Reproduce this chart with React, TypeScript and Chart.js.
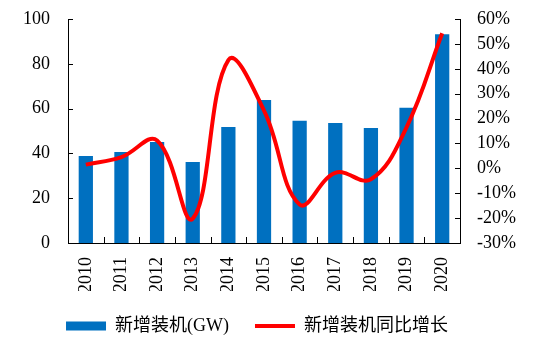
import React, { useEffect, useRef } from "react";
import { Chart, registerables } from "chart.js";

Chart.register(...registerables);

const years = ["2010", "2011", "2012", "2013", "2014", "2015", "2016", "2017", "2018", "2019", "2020"];
const installed = [38.8, 40.6, 45.1, 36.2, 51.8, 63.8, 54.6, 53.6, 51.3, 60.4, 93.2];
const growth = [1.5, 4.5, 11.2, -20.2, 43.5, 23.2, -14.5, -1.8, -4.4, 16.5, 54.3];
const barLabel = "新增装机(GW)";
const lineLabel = "新增装机同比增长";

const FONT = "'Liberation Serif', 'Times New Roman', 'Noto Sans CJK SC', serif";

const tickMarks = {
  id: "tickMarks",
  afterDatasetsDraw(chart: any) {
    const { ctx, chartArea, scales } = chart;
    const x = scales.x, y = scales.y, y1 = scales.y1;
    ctx.save();
    ctx.strokeStyle = "#000";
    ctx.lineWidth = 1;
    ctx.beginPath();
    y.ticks.forEach((_: any, i: number) => {
      const py = Math.round(y.getPixelForTick(i)) + 0.5;
      ctx.moveTo(chartArea.left, py);
      ctx.lineTo(chartArea.left + 5, py);
    });
    y1.ticks.forEach((_: any, i: number) => {
      const py = Math.round(y1.getPixelForTick(i)) + 0.5;
      ctx.moveTo(chartArea.right, py);
      ctx.lineTo(chartArea.right - 5, py);
    });
    const n = x.ticks.length;
    for (let i = 0; i <= n; i++) {
      const px =
        i === 0 ? x.left : i === n ? x.right : (x.getPixelForTick(i - 1) + x.getPixelForTick(i)) / 2;
      const rx = Math.round(px) + 0.5;
      ctx.moveTo(rx, chartArea.bottom);
      ctx.lineTo(rx, chartArea.bottom - 6);
    }
    ctx.stroke();
    ctx.restore();
  },
};

// shift the legend so it is centred under the plot rather than the whole canvas
const legendShift = {
  id: "legendShift",
  afterLayout(chart: any) {
    const lg = chart.legend;
    if (lg) {
      lg.right -= 40;
      lg.width -= 40;
    }
  },
};

const fitY = (w: number) => (s: any) => {
  s.width = w;
  s.paddingTop = 0;
  s.paddingBottom = 0;
};

export default function App() {
  const ref = useRef<HTMLCanvasElement>(null);
  useEffect(() => {
    if (!ref.current) return;
    const chart = new Chart(ref.current, {
      type: "bar",
      data: {
        labels: years,
        datasets: [
          {
            type: "bar",
            label: barLabel,
            data: installed,
            backgroundColor: "#0070C0",
            borderWidth: 0,
            barPercentage: 0.4,
            categoryPercentage: 1,
            yAxisID: "y",
            order: 1,
            pointStyle: "rect",
          } as any,
          {
            type: "line",
            label: lineLabel,
            data: growth,
            borderColor: "#FF0000",
            backgroundColor: "#FF0000",
            borderWidth: 4,
            tension: 0.4,
            pointRadius: 0,
            pointHoverRadius: 0,
            yAxisID: "y1",
            order: 0,
            pointStyle: "line",
          } as any,
        ],
      },
      options: {
        animation: false,
        responsive: true,
        maintainAspectRatio: false,
        layout: { padding: { top: 11, left: 0, right: 0, bottom: 4 } },
        plugins: {
          tooltip: { enabled: false },
          legend: {
            position: "bottom",
            labels: {
              usePointStyle: true,
              pointStyleWidth: 40,
              boxHeight: 9,
              padding: 26,
              color: "#000",
              font: { family: FONT, size: 18 },
              sort: (a: any, b: any) => a.datasetIndex - b.datasetIndex,
            },
          },
        },
        scales: {
          x: {
            grid: { display: false, drawTicks: false },
            border: { display: true, color: "#000", width: 1 },
            ticks: {
              color: "#000",
              font: { family: FONT, size: 18 },
              minRotation: 90,
              maxRotation: 90,
              autoSkip: false,
              padding: 14,
            },
            afterFit: (s: any) => {
              s.height = 48;
              s.paddingLeft = 0;
              s.paddingRight = 0;
            },
          },
          y: {
            position: "left",
            min: 0,
            max: 100,
            grid: { display: false, drawTicks: false },
            border: { display: true, color: "#000", width: 1 },
            ticks: {
              stepSize: 20,
              autoSkip: false,
              color: "#000",
              font: { family: FONT, size: 18 },
              padding: 18,
            },
            afterFit: fitY(60),
          },
          y1: {
            position: "right",
            min: -30,
            max: 60,
            grid: { display: false, drawTicks: false },
            border: { display: true, color: "#000", width: 1 },
            ticks: {
              stepSize: 10,
              autoSkip: false,
              color: "#000",
              font: { family: FONT, size: 18 },
              padding: 17,
              callback: (v: any) => `${v}%`,
            },
            afterFit: fitY(86),
          },
        },
      },
      plugins: [tickMarks, legendShift],
    });
    return () => chart.destroy();
  }, []);
  return (
    <div style={{ position: "absolute", left: 8, top: 8, width: 538, height: 341 }}>
      <canvas ref={ref} />
    </div>
  );
}
